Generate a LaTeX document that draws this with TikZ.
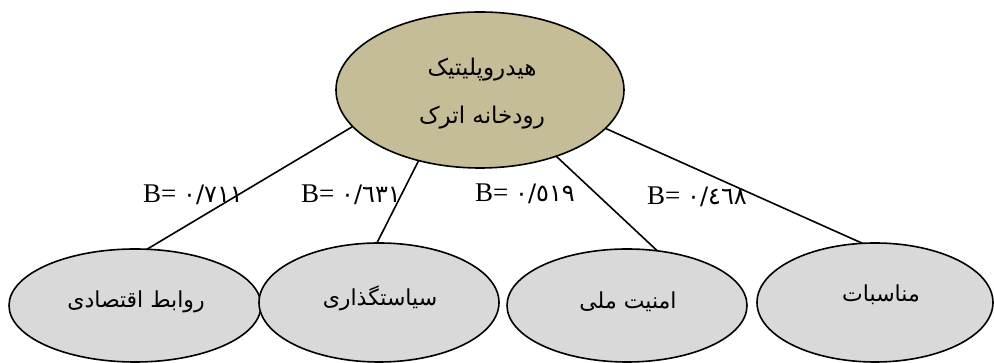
\documentclass[tikz,border=0pt]{standalone}
\usepackage{fontspec}
\setmainfont{Liberation Serif}
\newfontfamily\fa[Script=Arabic]{DejaVu Sans}
\TeXXeTstate=1
\usetikzlibrary{shapes.geometric}
\definecolor{tanfill}{HTML}{C4BD97}
\definecolor{grayfill}{HTML}{D9D9D9}
\begin{document}
\begin{tikzpicture}[x=1pt,y=1pt,
  ell/.style={ellipse, draw, line width=1.6pt, inner sep=0pt, outer sep=0pt},
  topell/.style={ell, fill=tanfill, minimum width=288pt, minimum height=156pt},
  botell/.style={ell, fill=grayfill},
  fatxt/.style={inner sep=0pt, font=\fa\fontsize{22}{26}\selectfont},
  toptxt/.style={fatxt, font=\fa\fontsize{23}{27}\selectfont},
  conn/.style={line width=1.6pt},
  blab/.style={inner sep=0pt, anchor=base west, font=\fontsize{27}{30}\selectfont},
  dig/.style={}
]
\useasboundingbox (0,0) rectangle (994,363);
% top node
\node[topell] (top) at (480,273) {};
\node[toptxt] (t0a) at (482,293) {\beginR هیدروپلیتیک\endR};
\node[toptxt] (t0b) at (482,245) {\beginR رودخانه اترک\endR};
% bottom nodes
\node[botell, minimum width=252pt, minimum height=113pt] (e1) at (135,57.5) {};
\node[botell, minimum width=240pt, minimum height=119pt] (e2) at (379,60.5) {};
\node[botell, minimum width=240pt, minimum height=113pt] (e3) at (627,57.5) {};
\node[botell, minimum width=236pt, minimum height=119pt] (e4) at (875,60.5) {};
\node[fatxt] (t1) at (136,61) {\beginR روابط اقتصادی\endR};
\node[fatxt] (t2) at (380,65) {\beginR سیاستگذاری\endR};
\node[fatxt] (t3) at (628,61) {\beginR امنیت ملی\endR};
\node[fatxt] (t4) at (881,68) {\beginR مناسبات\endR};
% connectors
\draw[conn] (top.196.7) -- (e1.78);
\draw[conn] (top.229.3) -- (e2.92.9);
\draw[conn] (top.319.3) -- (e3.61.2);
\draw[conn] (top.343.1) -- (e4.102.3);
% labels
\node[blab] (b1) at (143,160) {B= {\fa\fontsize{24}{26}\selectfont ٠/٧١١}};
\node[blab] (b2) at (301,160) {B= {\fa\fontsize{24}{26}\selectfont ٠/٦٣١}};
\node[blab] (b3) at (475,161) {B= {\fa\fontsize{24}{26}\selectfont ٠/٥١٩}};
\node[blab] (b4) at (647,158) {B= {\fa\fontsize{24}{26}\selectfont ٠/٤٦٨}};
\end{tikzpicture}
\end{document}
